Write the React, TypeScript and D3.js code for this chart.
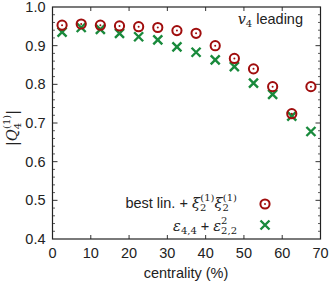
import * as d3 from 'd3';
import React from 'react';

// centrality bin centres (%)
const centrality = [2.5, 7.5, 12.5, 17.5, 22.5, 27.5, 32.5, 37.5, 42.5, 47.5, 52.5, 57.5, 62.5, 67.5];
// best lin. + xi xi  (red circles)
const bestLin = [0.953, 0.956, 0.953, 0.951, 0.949, 0.947, 0.939, 0.932, 0.900, 0.867, 0.840, 0.794, 0.724, 0.794];
// eps44 + eps22^2 (green crosses)
const epsModel = [0.935, 0.947, 0.942, 0.932, 0.923, 0.915, 0.897, 0.883, 0.863, 0.846, 0.803, 0.774, 0.718, 0.678];
const xTicks = [0, 10, 20, 30, 40, 50, 60, 70];
const yTicks = [0.4, 0.5, 0.6, 0.7, 0.8, 0.9, 1.0];

const W = 332, H = 284;
const left = 52.5, right = 320.5, top = 7, bottom = 239;
const red = '#a00d0d';
const green = '#198a3c';
const font = '"Liberation Sans", Arial, sans-serif';
const mathFont = '"DejaVu Serif", "Liberation Serif", serif';
const fs = 14.5;

function Circ({ x, y }: { x: number; y: number }) {
  return (
    <g>
      <circle cx={x} cy={y} r={4.6} fill="none" stroke={red} strokeWidth={2} />
      <circle cx={x} cy={y} r={1} fill={red} />
    </g>
  );
}

function Cross({ x, y }: { x: number; y: number }) {
  const s = 4.5;
  return (
    <path d={`M${x - s},${y - s}L${x + s},${y + s}M${x - s},${y + s}L${x + s},${y - s}`}
      stroke={green} strokeWidth={2.4} fill="none" />
  );
}

export default function App() {
  const x = d3.scaleLinear().domain([0, 70]).range([left, right]);
  const y = d3.scaleLinear().domain([0.4, 1.0]).range([bottom, top]);
  const minorY = d3.range(0.42, 1.0, 0.02).filter(v => Math.abs(Math.round(v * 10) - v * 10) > 1e-6);

  return (
    <svg width={W} height={H} style={{ position: 'absolute', left: 0, top: 0 }}>
      <rect x={0} y={0} width={W} height={H} fill="white" />
      {/* ticks */}
      {xTicks.slice(1, -1).map(t => (
        <g key={'xt' + t} stroke="#333" strokeWidth={1}>
          <line x1={x(t)} x2={x(t)} y1={bottom} y2={bottom - 4} />
          <line x1={x(t)} x2={x(t)} y1={top} y2={top + 4} />
        </g>
      ))}
      {yTicks.slice(1, -1).map(t => (
        <g key={'yt' + t} stroke="#333" strokeWidth={1}>
          <line x1={left} x2={left + 5} y1={y(t)} y2={y(t)} />
          <line x1={right} x2={right - 5} y1={y(t)} y2={y(t)} />
        </g>
      ))}
      {minorY.map(t => (
        <g key={'ym' + t} stroke="#333" strokeWidth={0.8}>
          <line x1={left} x2={left + 2.5} y1={y(t)} y2={y(t)} />
          <line x1={right} x2={right - 2.5} y1={y(t)} y2={y(t)} />
        </g>
      ))}
      <rect x={left} y={top} width={right - left} height={bottom - top} fill="none" stroke="#222" strokeWidth={1.2} />
      {/* tick labels */}
      {xTicks.map(t => (
        <text key={'xl' + t} x={x(t)} y={bottom + 19} textAnchor="middle" fontFamily={font} fontSize={fs} fill="#222">{t}</text>
      ))}
      {yTicks.map(t => (
        <text key={'yl' + t} x={left - 7} y={y(t) + 5} textAnchor="end" fontFamily={font} fontSize={fs} fill="#222">{t.toFixed(1)}</text>
      ))}
      <text x={186} y={278} textAnchor="middle" fontFamily={font} fontSize={fs} fill="#222">centrality (%)</text>
      {/* y label */}
      <g transform="translate(17,128) rotate(-90)">
        <text textAnchor="middle" fontFamily={mathFont} fontSize={fs} fill="#222">
          <tspan>|</tspan><tspan fontStyle="italic">Q</tspan>
          <tspan fontSize={10} dy={4}>4</tspan>
          <tspan fontSize={10} dx={-6} dy={-11}>(1)</tspan>
          <tspan dy={7}>|</tspan>
        </text>
      </g>
      <text x={303} y={24} textAnchor="end" fontFamily={font} fontSize={fs} fill="#222">
        <tspan fontFamily={mathFont} fontStyle="italic">v</tspan>
        <tspan fontFamily={mathFont} fontSize={10} dy={3}>4</tspan>
        <tspan dy={-3}> leading</tspan>
      </text>
      {/* data */}
      {centrality.map((c, i) => <Cross key={'x' + i} x={x(c)} y={y(epsModel[i])} />)}
      {centrality.map((c, i) => <Circ key={'c' + i} x={x(c)} y={y(bestLin[i])} />)}
      {/* legend */}
      <text x={237} y={208} textAnchor="end" fontFamily={font} fontSize={fs} fill="#222">
        <tspan>best lin. + </tspan>
        <tspan fontFamily={mathFont} fontStyle="italic">ξ</tspan>
        <tspan fontFamily={mathFont} fontSize={10} dy={3}>2</tspan>
        <tspan fontFamily={mathFont} fontSize={10} dx={-6} dy={-10}>(1)</tspan>
        <tspan fontFamily={mathFont} fontStyle="italic" dy={7}>ξ</tspan>
        <tspan fontFamily={mathFont} fontSize={10} dy={3}>2</tspan>
        <tspan fontFamily={mathFont} fontSize={10} dx={-6} dy={-10}>(1)</tspan>
      </text>
      <text x={237} y={231} textAnchor="end" fontFamily={font} fontSize={fs} fill="#222">
        <tspan fontFamily={mathFont} fontStyle="italic">ε</tspan>
        <tspan fontFamily={mathFont} fontSize={10} dy={3}>4,4</tspan>
        <tspan dy={-3}> + </tspan>
        <tspan fontFamily={mathFont} fontStyle="italic">ε</tspan>
        <tspan fontFamily={mathFont} fontSize={10} dy={3}>2,2</tspan>
        <tspan fontFamily={mathFont} fontSize={10} dx={-16} dy={-10}>2</tspan>
      </text>
      <Circ x={265} y={204} />
      <Cross x={265} y={225} />
    </svg>
  );
}
